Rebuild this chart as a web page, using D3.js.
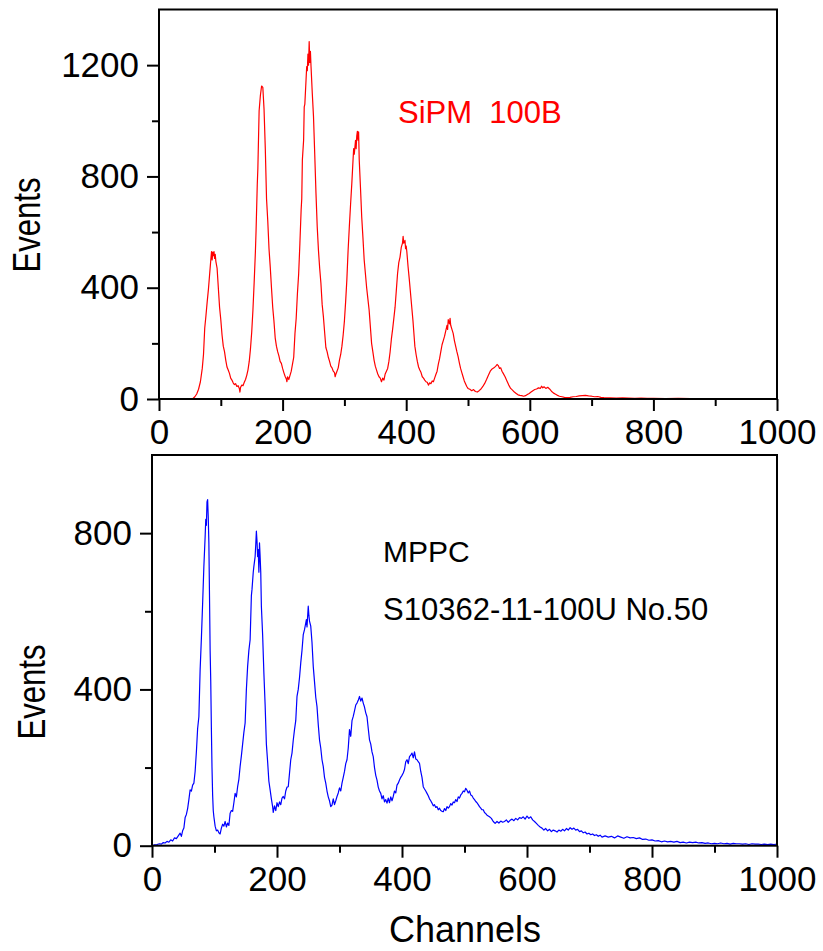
<!DOCTYPE html>
<html>
<head>
<meta charset="utf-8">
<script src="https://cdn.jsdelivr.net/npm/d3@7"></script>
<style>
  body { margin: 0; background: #fff; }
  text { font-family: "Liberation Sans", Arial, sans-serif; }
</style>
</head>
<body>
<script>
// SiPM 100B spectrum, [channel, events]
var sipmSpectrum = [
 [55,2],[58,8],[61,18],[64,35],[67,62],[70,110],[72,160],[74,255],[76,300],[78,350],
 [80,395],[82,450],[84,505],[85,530],[86,500],[87,528],[88,515],[89,530],[90,505],[91,520],
 [92,495],[94,470],[96,400],[98,330],[100,285],[102,230],[104,190],[106,170],[108,140],[110,115],
 [112,104],[114,92],[116,75],[118,68],[120,58],[122,52],[124,55],[126,45],[128,48],[130,38],
 [131,25],[132,42],[134,50],[136,48],[138,60],[140,70],[142,85],[144,105],[146,135],[148,180],
 [150,240],[152,320],[154,420],[156,530],[157,600],[159,770],[160,830],[162,1035],[164,1090],[166,1125],
 [168,1120],[170,1040],[172,900],[174,720],[176,640],[178,540],[180,475],[182,400],[184,330],[186,280],
 [188,220],[190,190],[192,170],[194,155],[196,135],[198,128],[200,110],[202,95],[204,82],[206,72],
 [207,62],[208,80],[210,70],[212,85],[214,100],[216,125],[218,150],[220,235],[222,290],[224,380],
 [226,450],[228,560],[230,680],[231,720],[232,860],[234,930],[235,1050],[236,1060],[238,1150],[239,1195],
 [240,1180],[241,1240],[242,1200],[243,1285],[244,1210],[245,1250],[246,1195],[248,1100],[250,1015],[252,880],
 [254,740],[256,620],[258,535],[260,470],[262,416],[264,340],[266,296],[268,240],[270,185],[272,170],
 [274,150],[276,135],[278,118],[280,112],[282,100],[284,95],[285,80],[286,88],[288,100],[290,112],
 [292,140],[294,160],[296,190],[298,230],[300,280],[302,350],[304,430],[306,535],[308,620],[310,700],
 [312,775],[314,860],[315,900],[316,880],[318,930],[319,900],[320,945],[321,962],[322,930],[323,960],
 [324,860],[326,760],[328,655],[330,580],[332,500],[334,450],[336,400],[338,360],[340,320],[342,260],
 [344,200],[346,170],[348,140],[350,118],[352,104],[354,90],[356,80],[358,75],[360,62],[362,75],
 [364,68],[366,90],[368,100],[370,110],[372,135],[374,170],[376,215],[378,250],[380,290],[382,330],
 [384,390],[386,450],[388,490],[390,510],[392,545],[394,560],[395,585],[396,560],[398,570],[399,540],
 [400,550],[401,530],[403,476],[405,430],[407,380],[409,330],[411,280],[413,220],[414,190],[416,160],
 [418,135],[420,115],[422,104],[424,95],[426,80],[428,75],[430,68],[432,62],[434,60],[436,50],
 [438,58],[440,55],[442,65],[444,62],[446,75],[448,88],[450,100],[452,125],[454,145],[456,170],
 [458,195],[460,210],[462,225],[464,245],[466,265],[467,250],[468,285],[470,270],[471,290],[472,265],
 [474,250],[476,236],[478,210],[480,190],[482,170],[484,152],[486,130],[488,110],[490,95],[492,80],
 [494,65],[496,55],[498,45],[500,38],[503,35],[506,30],[509,34],[512,27],[515,25],[518,30],
 [521,36],[524,45],[527,56],[530,70],[533,85],[536,100],[539,108],[542,112],[545,118],[547,124],
 [549,120],[551,110],[553,112],[555,100],[557,92],[560,80],[563,65],[566,50],[569,38],[572,32],
 [575,25],[578,20],[581,15],[584,13],[587,12],[590,10],[593,12],[596,16],[599,20],[602,25],
 [605,30],[608,34],[611,36],[614,40],[617,38],[619,46],[621,40],[623,44],[626,38],[629,42],
 [632,36],[635,28],[638,22],[641,18],[644,14],[648,10],[652,8],[656,6],[660,5],[665,6],
 [670,8],[675,9],[680,11],[685,12],[690,13],[695,11],[700,10],[705,8],[710,9],[715,6],
 [720,5],[730,4],[740,3],[750,4],[760,3],[770,2],[780,3],[790,2],[800,2],[820,1],
 [840,2],[860,1],[870,0]
];

// MPPC S10362-11-100U No.50 spectrum, [channel, events]
var mppcSpectrum = [
 [0,0],[4,2],[8,3],[12,5],[15,4],[18,8],[21,7],[24,11],[27,9],[30,15],
 [33,12],[36,20],[39,18],[42,25],[45,32],[47,24],[49,38],[51,45],[53,72],[55,80],
 [57,95],[59,118],[61,143],[63,140],[65,155],[67,160],[69,190],[71,240],[73,300],[75,330],
 [77,450],[79,530],[81,620],[83,715],[85,790],[86,835],[87,820],[88,880],[89,886],[90,840],
 [91,775],[92,640],[93,500],[94,420],[95,300],[96,200],[97,130],[98,90],[99,74],[101,50],
 [103,38],[105,40],[107,33],[109,30],[111,45],[113,55],[115,50],[117,62],[119,48],[121,58],
 [123,52],[125,83],[127,90],[129,88],[131,110],[133,134],[135,125],[137,151],[139,170],[141,203],
 [143,230],[145,260],[147,290],[149,314],[151,400],[153,459],[155,500],[157,527],[159,640],[160,656],
 [162,700],[163,715],[165,740],[166,770],[167,805],[168,780],[169,740],[170,758],[171,700],[172,775],
 [173,740],[174,700],[175,613],[177,540],[179,442],[181,360],[183,260],[185,215],[187,165],[189,143],
 [191,120],[193,100],[194,85],[196,102],[198,90],[200,110],[202,100],[204,112],[206,105],[208,122],
 [210,126],[212,120],[214,140],[216,150],[218,151],[220,185],[222,220],[224,237],[226,270],[228,297],
 [230,320],[232,382],[234,400],[236,430],[238,468],[240,500],[242,540],[244,553],[246,570],[247,579],
 [248,560],[250,613],[251,590],[252,575],[254,562],[256,520],[258,459],[260,420],[262,380],[264,356],
 [266,310],[268,271],[270,250],[272,220],[274,203],[276,175],[278,160],[280,140],[282,125],[284,115],
 [286,100],[288,104],[290,120],[292,105],[294,115],[296,126],[298,135],[300,148],[302,140],[304,160],
 [306,175],[308,190],[310,210],[312,220],[314,250],[316,297],[318,280],[320,320],[322,331],[324,345],
 [326,360],[328,365],[330,372],[332,382],[334,370],[336,378],[338,365],[340,355],[342,340],[344,330],
 [346,300],[348,271],[350,260],[352,240],[354,228],[356,200],[358,180],[360,168],[362,150],[364,140],
 [366,134],[368,120],[370,128],[372,112],[374,118],[376,109],[378,122],[380,110],[382,125],[384,115],
 [386,126],[388,140],[390,135],[392,155],[394,160],[396,168],[398,175],[400,180],[402,186],[404,195],
 [406,215],[408,220],[410,210],[412,228],[414,232],[416,237],[418,225],[420,240],[422,222],[424,220],
 [426,215],[428,211],[430,190],[432,175],[434,151],[436,145],[438,140],[440,134],[442,128],[444,120],
 [446,115],[448,109],[450,102],[452,105],[454,98],[456,100],[458,92],[460,96],[462,90],[464,88],
 [466,87],[468,95],[470,90],[472,100],[474,96],[476,100],[478,108],[480,104],[482,112],[484,110],
 [486,118],[488,113],[490,125],[492,122],[494,130],[496,134],[498,140],[500,138],[502,147],[504,142],
 [506,135],[508,140],[510,130],[512,128],[514,122],[516,118],[518,113],[520,110],[522,105],[524,100],
 [526,96],[528,92],[530,92],[532,85],[534,82],[536,78],[538,76],[540,74],[543,70],[546,62],
 [549,57],[552,62],[555,58],[558,63],[561,60],[564,62],[567,66],[570,60],[573,65],[576,68],
 [579,64],[582,70],[585,66],[588,72],[591,70],[594,74],[597,68],[600,76],[603,70],[606,74],
 [609,66],[612,62],[615,57],[618,52],[621,48],[624,45],[627,40],[630,44],[633,38],[636,42],
 [639,36],[642,40],[645,38],[648,35],[651,40],[654,37],[657,42],[660,38],[663,44],[666,40],
 [669,46],[672,42],[675,45],[678,40],[681,42],[684,36],[687,38],[690,33],[693,35],[696,30],
 [699,32],[702,28],[705,30],[708,26],[711,28],[714,24],[717,27],[720,22],[725,25],[730,22],
 [735,24],[740,20],[745,25],[750,22],[755,19],[760,23],[765,20],[770,21],[775,18],[780,20],
 [785,16],[790,17],[795,14],[800,15],[805,12],[810,13],[815,10],[820,12],[825,10],[830,11],
 [835,9],[840,11],[845,8],[850,9],[855,7],[860,9],[865,8],[870,9],[875,7],[880,8],
 [885,6],[890,7],[895,5],[900,6],[905,5],[910,7],[915,5],[920,6],[925,4],[930,6],
 [935,5],[940,5],[945,4],[950,5],[955,3],[960,5],[965,4],[970,4],[975,3],[980,4],
 [985,3],[990,4],[995,3],[1000,4]
];

// tick values
var xTicks = [0, 200, 400, 600, 800, 1000];
var xMinorTicks = [100, 300, 500, 700, 900];
var topYTicks = [0, 400, 800, 1200];
var topYMinor = [200, 600, 1000];
var botYTicks = [0, 400, 800];
var botYMinor = [200, 600];

let w = 823;
let h = 951;

var svg = d3.select("body")
  .append("svg")
  .attr("width", w)
  .attr("height", h);

function drawPanel(opt) {
  let xScale = d3.scaleLinear()
    .domain([0, 1000])
    .range([opt.left, opt.right]);
  let yScale = d3.scaleLinear()
    .domain([0, opt.yMax])
    .range([opt.bottom, opt.top]);

  let g = svg.append("g");

  // data line
  let line = d3.line()
    .x(function(d){ return xScale(d[0]); })
    .y(function(d){ return yScale(d[1]); });

  g.append("path")
    .datum(opt.data)
    .attr("fill", "none")
    .attr("stroke", opt.color)
    .attr("stroke-width", 1.2)
    .attr("stroke-linejoin", "round")
    .attr("d", line);

  // frame
  g.append("rect")
    .attr("x", opt.left)
    .attr("y", opt.top)
    .attr("width", opt.right - opt.left)
    .attr("height", opt.bottom - opt.top)
    .attr("fill", "none")
    .attr("stroke", "#000")
    .attr("stroke-width", 2);

  // major + minor axes
  let fmt = d3.format("d");
  let xAxis = d3.axisBottom(xScale).tickValues(xTicks).tickFormat(fmt).tickSize(12).tickPadding(8).tickSizeOuter(0);
  let xMinor = d3.axisBottom(xScale).tickValues(xMinorTicks).tickSize(7).tickFormat("").tickSizeOuter(0);
  let yAxis = d3.axisLeft(yScale).tickValues(opt.yTicks).tickFormat(fmt).tickSize(12).tickPadding(8).tickSizeOuter(0);
  let yMinor = d3.axisLeft(yScale).tickValues(opt.yMinor).tickSize(7).tickFormat("").tickSizeOuter(0);

  [[xAxis, "translate(0," + opt.bottom + ")"], [xMinor, "translate(0," + opt.bottom + ")"],
   [yAxis, "translate(" + opt.left + ",0)"], [yMinor, "translate(" + opt.left + ",0)"]]
  .forEach(function(a){
    let ax = g.append("g")
      .attr("transform", a[1])
      .call(a[0]);
    ax.select(".domain").remove();
    ax.selectAll("line").attr("stroke-width", 2);
    ax.selectAll("text")
      .attr("font-family", "Liberation Sans, Arial, sans-serif")
      .attr("font-size", "35px")
      .attr("fill", "#000");
  });

  // y label
  g.append("text")
    .attr("transform", "translate(" + opt.yLabelX + "," + opt.yLabelY + ") rotate(-90)")
    .attr("text-anchor", "middle")
    .attr("font-size", "38px")
    .attr("textLength", 95)
    .attr("lengthAdjust", "spacingAndGlyphs")
    .text("Events");

  return g;
}

drawPanel({
  data: sipmSpectrum, color: "#ff0000",
  left: 159, right: 777, top: 9.5, bottom: 399, yMax: 1400,
  yTicks: topYTicks, yMinor: topYMinor, yLabelX: 40, yLabelY: 225
});

drawPanel({
  data: mppcSpectrum, color: "#0000ff",
  left: 152, right: 777, top: 455, bottom: 845.7, yMax: 1000,
  yTicks: botYTicks, yMinor: botYMinor, yLabelX: 45, yLabelY: 692
});

// annotations
svg.append("text")
  .attr("x", 398).attr("y", 123)
  .attr("font-size", "31px")
  .attr("fill", "#ff0000")
  .style("white-space", "pre")
  .text("SiPM  100B");

svg.append("text")
  .attr("x", 383).attr("y", 562)
  .attr("font-size", "30px")
  .text("MPPC");

svg.append("text")
  .attr("x", 383).attr("y", 620)
  .attr("font-size", "31px")
  .text("S10362-11-100U No.50");

svg.append("text")
  .attr("x", 465).attr("y", 942)
  .attr("text-anchor", "middle")
  .attr("font-size", "36px")
  .text("Channels");
</script>
</body>
</html>
